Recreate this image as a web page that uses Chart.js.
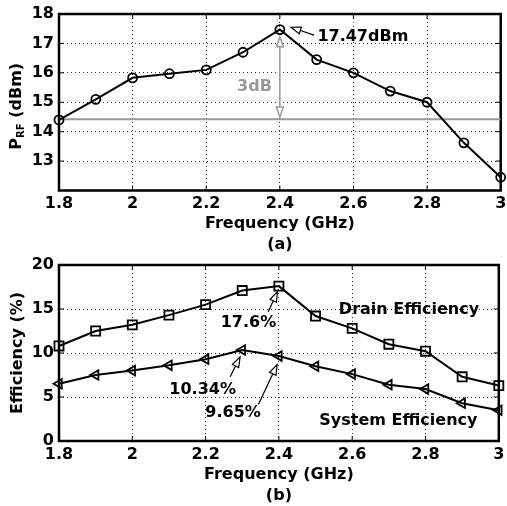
<!DOCTYPE html>
<html>
<head>
<meta charset="utf-8">
<script src="https://cdn.jsdelivr.net/npm/chart.js@4"></script>
<style>
body { margin: 0; background: #fff; }
.box { position: absolute; left: 0; width: 507px; }
#boxA { top: 0; height: 255px; }
#boxB { top: 255px; height: 251px; }
</style>
</head>
<body>
<div class="box" id="boxA"><canvas id="chartA"></canvas></div>
<div class="box" id="boxB"><canvas id="chartB"></canvas></div>
<script>
// frequency points (GHz)
const freq = [1.8, 1.9, 2.0, 2.1, 2.2, 2.3, 2.4, 2.5, 2.6, 2.7, 2.8, 2.9, 3.0]
// (a) output power
const prf = [14.4, 15.1, 15.83, 15.97, 16.1, 16.7, 17.47, 16.45, 16.0, 15.38, 15.0, 13.62, 12.45]
const ref3dB = 14.42
// (b) efficiencies (%)
const drainEff = [10.8, 12.5, 13.2, 14.3, 15.5, 17.1, 17.6, 14.2, 12.8, 11.0, 10.2, 7.3, 6.3]
const sysEff = [6.5, 7.5, 8.0, 8.6, 9.3, 10.34, 9.65, 8.5, 7.6, 6.4, 5.9, 4.3, 3.5]
// axis ticks
const xTicks = { min: 1.8, max: 3, step: 0.2 }
const yTicksA = { min: 12, max: 18, step: 1 }
const yTicksB = { min: 0, max: 20, step: 5 }

const FONT = "'DejaVu Sans', Verdana, sans-serif"
Chart.defaults.font.family = FONT
Chart.defaults.font.size = 16
Chart.defaults.font.weight = 'bold'
Chart.defaults.color = '#000'

function toXY(ys) {
    return freq.map((f, i) => ({ x: f, y: ys[i] }))
}

function xScale(label, h) {
    return {
        type: 'linear', min: xTicks.min, max: xTicks.max,
        ticks: {
            stepSize: xTicks.step, padding: 4, maxRotation: 0, autoSkip: false,
            callback: v => String(Number(v.toFixed(1)))
        },
        grid: { color: '#333', lineWidth: 1, drawTicks: false },
        border: { display: false, dash: [1, 3] },
        title: { display: true, text: label, padding: 0, font: { size: 16, weight: 'bold', lineHeight: 1.3 } },
        afterFit(s) { s.height = h; s.paddingLeft = 0; s.paddingRight = 0 }
    }
}

function yScale(t, title, hideMin) {
    return {
        min: t.min, max: t.max,
        ticks: {
            stepSize: t.step, padding: 5,
            callback: v => (hideMin && v == t.min) ? '' : v
        },
        grid: { color: '#333', lineWidth: 1, drawTicks: false },
        border: { display: false, dash: [1, 3] },
        title: title ? { display: true, text: title, padding: { top: 7 }, font: { size: 16, weight: 'bold', lineHeight: 1.3 } } : { display: false },
        afterFit(s) { s.width = 59; s.paddingTop = 0; s.paddingBottom = 0 }
    }
}

// box round the plot and inward tick marks
const framePlugin = {
    id: 'frame',
    beforeDatasetsDraw(chart) {
        const { ctx, chartArea: a, scales } = chart
        ctx.save()
        ctx.strokeStyle = '#000'
        ctx.lineWidth = 1
        ctx.beginPath()
        scales.x.ticks.forEach(t => {
            let px = scales.x.getPixelForValue(t.value)
            ctx.moveTo(px, a.bottom); ctx.lineTo(px, a.bottom - 5)
            ctx.moveTo(px, a.top); ctx.lineTo(px, a.top + 5)
        })
        scales.y.ticks.forEach(t => {
            let py = scales.y.getPixelForValue(t.value)
            ctx.moveTo(a.left, py); ctx.lineTo(a.left + 5, py)
            ctx.moveTo(a.right, py); ctx.lineTo(a.right - 5, py)
        })
        ctx.stroke()
        ctx.lineWidth = 2.5
        ctx.strokeRect(a.left, a.top, a.width, a.height)
        ctx.restore()
    }
}

function arrowHead(ctx, x1, y1, x2, y2, color) {
    let ang = Math.atan2(y2 - y1, x2 - x1)
    let len = 10, half = 3.5
    let bx = x2 - Math.cos(ang) * len, by = y2 - Math.sin(ang) * len
    ctx.beginPath()
    ctx.moveTo(x2, y2)
    ctx.lineTo(bx + Math.sin(ang) * half, by - Math.cos(ang) * half)
    ctx.lineTo(bx - Math.sin(ang) * half, by + Math.cos(ang) * half)
    ctx.closePath()
    ctx.fillStyle = '#fff'
    ctx.fill()
    ctx.strokeStyle = color
    ctx.stroke()
    return [bx, by]
}

function arrow(chart, from, to, color) {
    const { ctx, scales } = chart
    let x1 = scales.x.getPixelForValue(from[0]), y1 = scales.y.getPixelForValue(from[1])
    let x2 = scales.x.getPixelForValue(to[0]), y2 = scales.y.getPixelForValue(to[1])
    ctx.save()
    ctx.lineWidth = 1.2
    ctx.strokeStyle = color
    let b = arrowHead(ctx, x1, y1, x2, y2, color)
    ctx.beginPath()
    ctx.moveTo(x1, y1); ctx.lineTo(b[0], b[1])
    ctx.stroke()
    ctx.restore()
}

function label(chart, text, at, align, color) {
    const { ctx, scales } = chart
    ctx.save()
    ctx.font = 'bold 16px ' + FONT
    ctx.fillStyle = color || '#000'
    ctx.textAlign = align || 'center'
    ctx.textBaseline = 'middle'
    ctx.fillText(text, scales.x.getPixelForValue(at[0]), scales.y.getPixelForValue(at[1]))
    ctx.restore()
}

const notesA = {
    id: 'notesA',
    afterDraw(chart) {
        const { ctx, chartArea: a, scales } = chart
        label(chart, '17.47dBm', [2.502, 17.23], 'left')
        arrow(chart, [2.493, 17.28], [2.43, 17.55], '#000')
        label(chart, '3dB', [2.331, 15.54], 'center', '#999')
        // 3 dB double arrow
        let px = scales.x.getPixelForValue(2.4)
        let yt = scales.y.getPixelForValue(17.23), yb = scales.y.getPixelForValue(14.5)
        ctx.save()
        ctx.lineWidth = 1.5
        ctx.strokeStyle = '#999'
        ctx.beginPath(); ctx.moveTo(px, yt + 10); ctx.lineTo(px, yb - 10); ctx.stroke()
        arrowHead(ctx, px, yb, px, yt, '#999')
        arrowHead(ctx, px, yt, px, yb, '#999')
        ctx.restore()
        // y title with subscript
        let cy = (a.top + a.bottom) / 2 + 4
        ctx.save()
        ctx.translate(17, cy)
        ctx.rotate(-Math.PI / 2)
        ctx.fillStyle = '#000'
        ctx.textBaseline = 'middle'
        ctx.textAlign = 'left'
        let big = 'bold 16px ' + FONT, small = 'bold 10px ' + FONT
        ctx.font = big
        let wP = ctx.measureText('P').width, wRest = ctx.measureText(' (dBm)').width
        ctx.font = small
        let wS = ctx.measureText('RF').width
        let x0 = -(wP + wS + wRest) / 2
        ctx.font = big
        ctx.fillText('P', x0, 0)
        ctx.font = small
        ctx.fillText('RF', x0 + wP, 4)
        ctx.font = big
        ctx.fillText(' (dBm)', x0 + wP + wS, 0)
        ctx.restore()
    }
}

const notesB = {
    id: 'notesB',
    afterDraw(chart) {
        label(chart, 'Drain Efficiency', [2.755, 14.9])
        label(chart, 'System Efficiency', [2.726, 2.24])
        label(chart, '17.6%', [2.317, 13.4])
        arrow(chart, [2.371, 14.7], [2.396, 16.97], '#000')
        label(chart, '10.34%', [2.192, 5.84])
        arrow(chart, [2.267, 7.3], [2.294, 9.54], '#000')
        label(chart, '9.65%', [2.275, 3.23])
        arrow(chart, [2.344, 4.14], [2.395, 8.67], '#000')
    }
}

const common = {
    responsive: true,
    maintainAspectRatio: false,
    animation: false,
    plugins: { legend: { display: false }, tooltip: { enabled: false } }
}

new Chart(document.getElementById('chartA'), {
    type: 'line',
    data: {
        datasets: [{
            data: toXY(prf),
            borderColor: '#000', borderWidth: 2,
            pointStyle: 'circle', pointRadius: 4.5,
            pointBorderColor: '#000', pointBackgroundColor: 'rgba(0,0,0,0)', pointBorderWidth: 1.8,
            clip: false
        }, {
            data: [{ x: xTicks.min, y: ref3dB }, { x: xTicks.max, y: ref3dB }],
            borderColor: '#999', borderWidth: 2, pointRadius: 0
        }]
    },
    options: Object.assign({}, common, {
        layout: { padding: { top: 14, right: 5, left: 0, bottom: 0 } },
        scales: { x: xScale(['Frequency (GHz)', '(a)'], 255 - 190.5), y: yScale(yTicksA, null, true) }
    }),
    plugins: [framePlugin, notesA]
})

new Chart(document.getElementById('chartB'), {
    type: 'line',
    data: {
        datasets: [{
            data: toXY(drainEff),
            borderColor: '#000', borderWidth: 2,
            pointStyle: 'rect', pointRadius: 6.4,
            pointBorderColor: '#000', pointBackgroundColor: 'rgba(0,0,0,0)', pointBorderWidth: 1.8,
            clip: false
        }, {
            data: toXY(sysEff),
            borderColor: '#000', borderWidth: 2,
            pointStyle: 'triangle', pointRotation: -90, pointRadius: 5.5,
            pointBorderColor: '#000', pointBackgroundColor: 'rgba(0,0,0,0)', pointBorderWidth: 1.8,
            clip: false
        }]
    },
    options: Object.assign({}, common, {
        layout: { padding: { top: 10, right: 5, left: 0, bottom: 0 } },
        scales: { x: xScale(['Frequency (GHz)', '(b)'], 251 - 186), y: yScale(yTicksB, 'Efficiency (%)', false) }
    }),
    plugins: [framePlugin, notesB]
})
</script>
</body>
</html>
